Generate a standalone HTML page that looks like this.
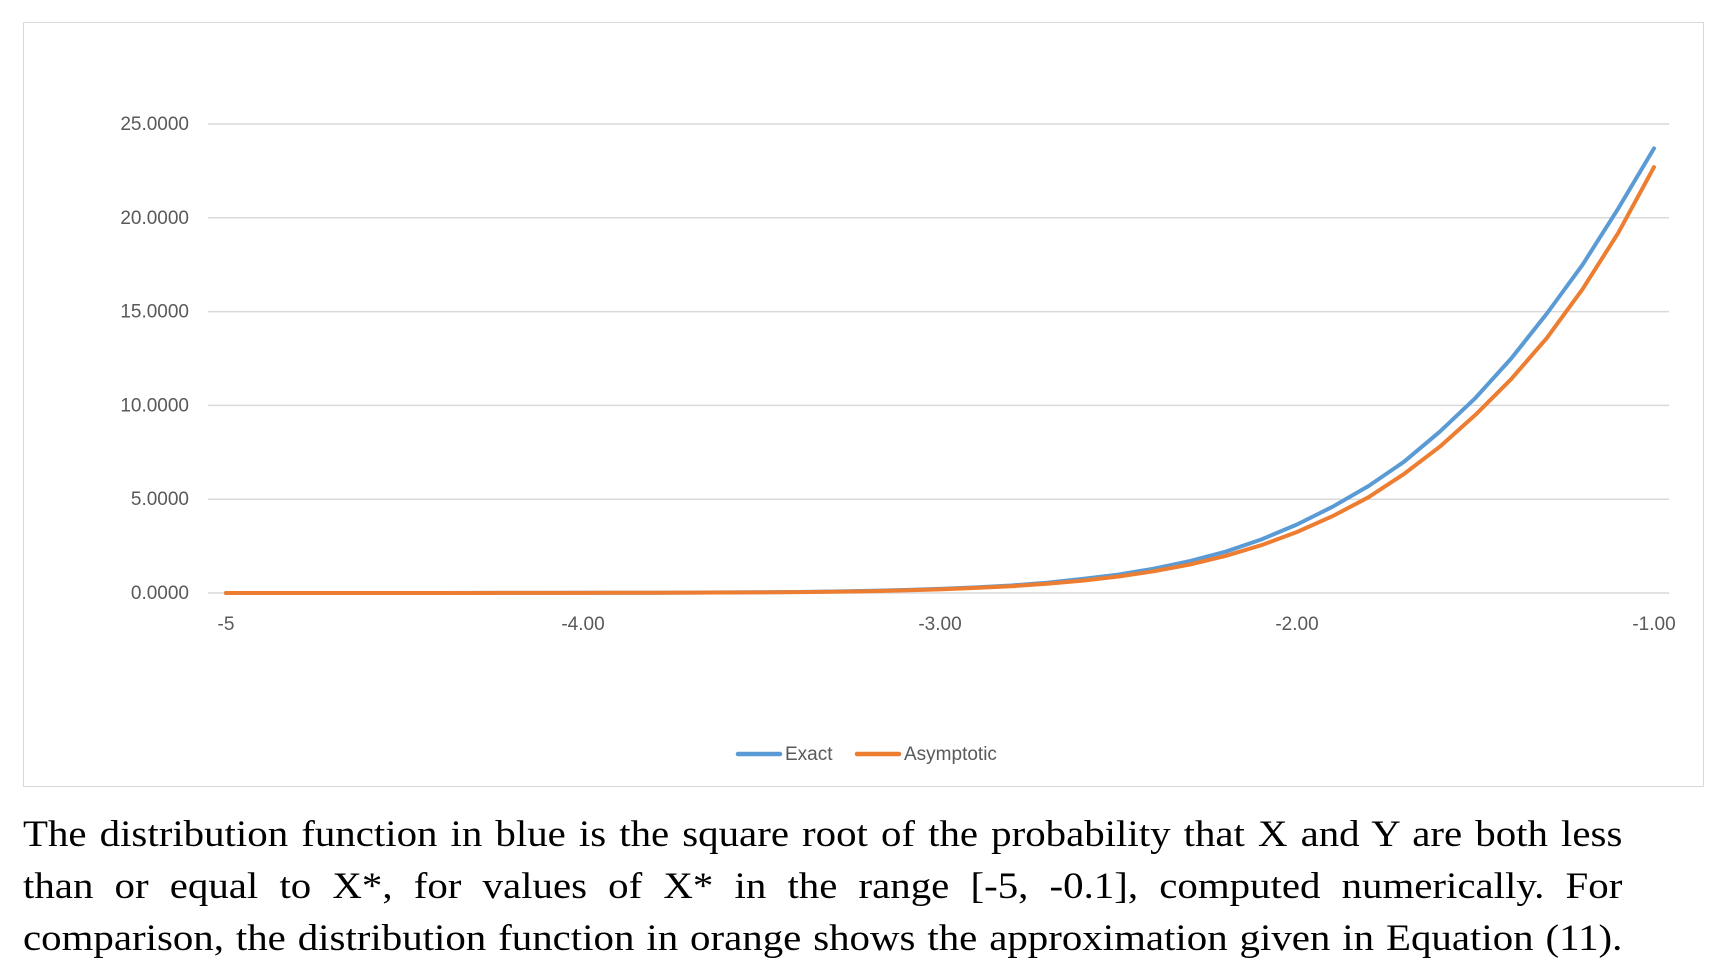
<!DOCTYPE html>
<html><head><meta charset="utf-8">
<style>
body{margin:0;width:1722px;height:977px;background:#fff;overflow:hidden;position:relative;font-family:"Liberation Sans",sans-serif}
#frame{position:absolute;left:23px;top:22px;width:1681px;height:765px;border:1.5px solid #d9d9d9;box-sizing:border-box}
#caption{position:absolute;left:23px;top:808px;width:1428px;font-family:"Liberation Serif",serif;font-size:36.5px;line-height:52px;color:#000;transform:scaleX(1.12);transform-origin:0 0}
#caption div{text-align:justify;text-align-last:justify;white-space:nowrap}
</style></head><body>
<div id="frame"></div>
<svg id="chart" width="1722" height="800" style="position:absolute;left:0;top:0"></svg>
<div id="caption">
<div>The distribution function in blue is the square root of the probability that X and Y are both less</div>
<div>than or equal to X*, for values of X* in the range [-5, -0.1], computed numerically. For</div>
<div>comparison, the distribution function in orange shows the approximation given in Equation (11).</div>
</div>
<script>
const xValues=[-5,-4.9,-4.8,-4.7,-4.6,-4.5,-4.4,-4.3,-4.2,-4.1,-4,-3.9,-3.8,-3.7,-3.6,-3.5,-3.4,-3.3,-3.2,-3.1,-3,-2.9,-2.8,-2.7,-2.6,-2.5,-2.4,-2.3,-2.2,-2.1,-2,-1.9,-1.8,-1.7,-1.6,-1.5,-1.4,-1.3,-1.2,-1.1,-1];
const exactValues=[0,0,0,0,0.001,0.001,0.002,0.003,0.004,0.006,0.009,0.012,0.017,0.023,0.03,0.04,0.055,0.08,0.11,0.16,0.22,0.3,0.4,0.55,0.75,0.98,1.3,1.7,2.2,2.85,3.65,4.6,5.7,7.0,8.6,10.4,12.5,14.9,17.5,20.5,23.7];
const asymValues=[0,0,0,0,0.001,0.001,0.002,0.002,0.003,0.005,0.007,0.01,0.014,0.019,0.025,0.034,0.047,0.068,0.095,0.14,0.19,0.27,0.36,0.49,0.66,0.88,1.16,1.52,1.98,2.55,3.25,4.1,5.1,6.35,7.8,9.5,11.4,13.6,16.2,19.2,22.7];
const yTicks=[0,5,10,15,20,25];
const yTickLabels=["0.0000","5.0000","10.0000","15.0000","20.0000","25.0000"];
const xTicks=[-5,-4,-3,-2,-1];
const xTickLabels=["-5","-4.00","-3.00","-2.00","-1.00"];
const svg=document.getElementById('chart');
const NS='http://www.w3.org/2000/svg';
const px0=226,px1=1654,py0=593,py1=124;
const xs=v=>px0+(v+5)/4*(px1-px0);
const ys=v=>py0-v/25*(py0-py1);
function mk(t,a){const e=document.createElementNS(NS,t);for(const k in a)e.setAttribute(k,a[k]);svg.appendChild(e);return e;}
yTicks.forEach((v,i)=>{
  const g=mk('line',{x1:208,x2:1669,y1:ys(v),y2:ys(v),stroke:'#d9d9d9','stroke-width':1.5});
  
  
  const t=mk('text',{x:189,y:ys(v)+6,'text-anchor':'end','font-size':19,fill:'#595959','font-family':'Liberation Sans, sans-serif'});
  t.textContent=yTickLabels[i];
  
  
});
xTicks.forEach((v,i)=>{
  const t=mk('text',{x:xs(v),y:630,'text-anchor':'middle','font-size':19,fill:'#595959','font-family':'Liberation Sans, sans-serif'});
  t.textContent=xTickLabels[i];
  
  
});
function series(vals,color,name){
  const d=vals.map((v,i)=>(i?'L':'M')+xs(xValues[i]).toFixed(1)+','+ys(v).toFixed(1)).join('');
  const p=mk('path',{d:d,fill:'none',stroke:color,'stroke-width':4,'stroke-linejoin':'round','stroke-linecap':'round'});
  
  
}
series(exactValues,'#5b9bd5','exact-line');
series(asymValues,'#ed7d31','asymptotic-line');
const l1=mk('line',{x1:738,x2:780,y1:754,y2:754,stroke:'#5b9bd5','stroke-width':4.5,'stroke-linecap':'round'});


const t1=mk('text',{x:785,y:760,'font-size':19,fill:'#595959','font-family':'Liberation Sans, sans-serif'});
t1.textContent='Exact';


const l2=mk('line',{x1:857,x2:899,y1:754,y2:754,stroke:'#ed7d31','stroke-width':4.5,'stroke-linecap':'round'});


const t2=mk('text',{x:904,y:760,'font-size':19,fill:'#595959','font-family':'Liberation Sans, sans-serif'});
t2.textContent='Asymptotic';


</script>
</body></html>
